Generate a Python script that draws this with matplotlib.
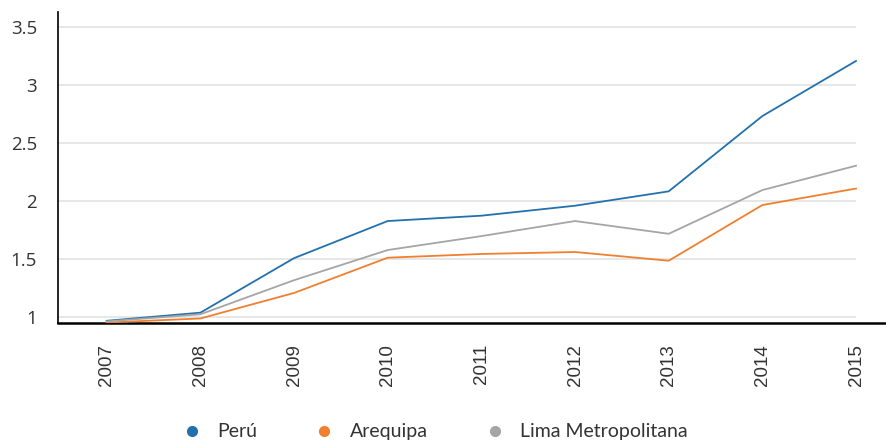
import matplotlib
matplotlib.use("Agg")
import matplotlib.pyplot as plt

years = [2007, 2008, 2009, 2010, 2011, 2012, 2013, 2014, 2015]
peru = [0.97, 1.04, 1.51, 1.83, 1.876, 1.962, 2.086, 2.735, 3.21]
arequipa = [0.955, 0.99, 1.21, 1.514, 1.546, 1.563, 1.488, 1.968, 2.11]
lima = [0.965, 1.026, 1.32, 1.58, 1.70, 1.83, 1.72, 2.097, 2.307]
series_names = ["Perú", "Arequipa", "Lima Metropolitana"]
colors = ["#2371ac", "#f07f2f", "#a5a5a5"]
yticks = [1, 1.5, 2, 2.5, 3, 3.5]

plt.rcParams['font.family'] = ['Open Sans', 'DejaVu Sans']

fig = plt.figure(figsize=(8.86, 4.43), dpi=100)
ax = fig.add_axes([58/886, 1-323/443, 1-58/886, (323-12)/443])

for ys in yticks:
    ax.hlines(ys, years[0]-0.52, years[-1], color="#e3e3e3", lw=1.2, zorder=0)

handles = []
for vals, name, c in zip([peru, arequipa, lima], series_names, colors):
    ax.plot(years, vals, color=c, lw=1.3, zorder=3)
    h, = ax.plot([], [], marker='o', ls='none', color=c, markersize=7, label=name)
    handles.append(h)

ax.set_xlim(years[0]-0.52, years[-1] + 30/93.75)
ax.set_ylim(0.951, 3.632)
ax.set_yticks(yticks)
ax.set_yticklabels(["1", "1.5", "2", "2.5", "3", "3.5"], fontsize=13.5)
ax.set_xticks(years)
ax.set_xticklabels([str(y) for y in years], rotation=90)
for lbl in ax.get_xticklabels():
    lbl.set_fontfamily(['Liberation Sans', 'DejaVu Sans'])
    lbl.set_fontsize(13.5)
ax.tick_params(axis='both', length=0, colors="#333333")
ax.tick_params(axis='y', pad=15)
ax.tick_params(axis='x', pad=15)
for s in ['top', 'right']:
    ax.spines[s].set_visible(False)
ax.spines['left'].set_color('black')
ax.spines['left'].set_linewidth(1.2)
ax.spines['bottom'].set_color('black')
ax.spines['bottom'].set_linewidth(1.8)

leg = fig.legend(handles=handles, loc='center', bbox_to_anchor=(0.491, 0.025), ncol=3,
                 frameon=False, handletextpad=0.8, columnspacing=2.95,
                 handlelength=1.0, prop={'family': ['Lato', 'DejaVu Sans'], 'size': 14})
for t in leg.get_texts():
    t.set_color("#333333")

fig.savefig("out.png", dpi=100)
